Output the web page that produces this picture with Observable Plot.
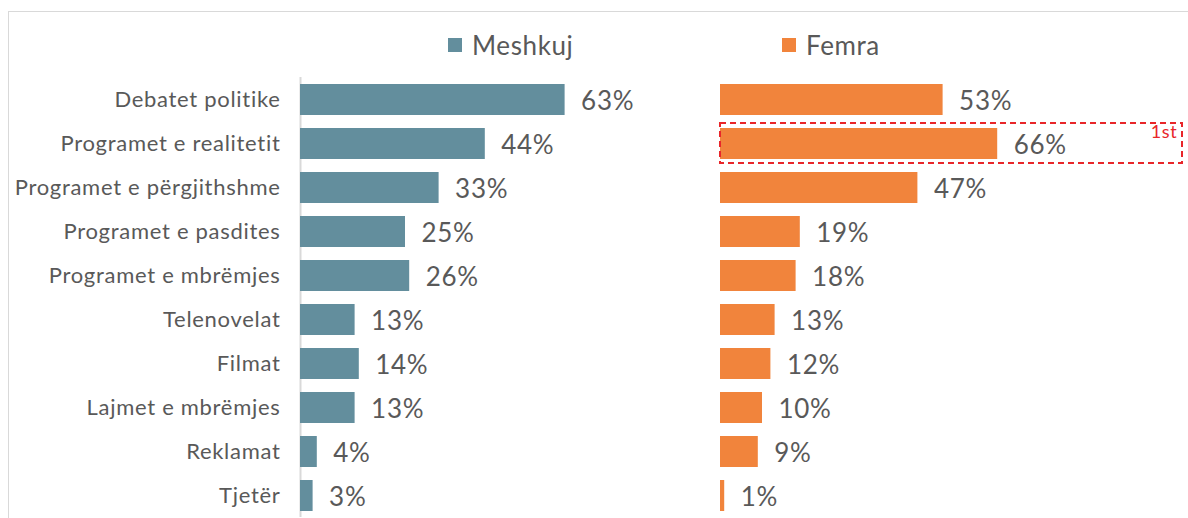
<!DOCTYPE html>
<html>
<head>
<meta charset="utf-8">
<script src="https://cdn.jsdelivr.net/npm/d3@7"></script>
<script src="https://cdn.jsdelivr.net/npm/@observablehq/plot@0.6"></script>
<style>
  html, body { margin: 0; padding: 0; background: #fff; }
  body { width: 1188px; height: 518px; position: relative; overflow: hidden; font-family: Lato, "Open Sans", sans-serif; }
  #frame { position: absolute; left: 8px; top: 11px; width: 1300px; height: 600px; border: 1px solid #d9d9d9; box-sizing: border-box; }
  #chart { position: absolute; left: 0; top: 0; }
  .leg { position: absolute; top: 29px; display: flex; align-items: center; font-size: 26px; letter-spacing: 0.6px; color: #595959; }
  .leg span.sw { display: inline-block; width: 14px; height: 14px; margin-right: 10px; }
  #chart svg text { letter-spacing: 0.7px; }
</style>
</head>
<body>
<div id="frame"></div>
<div id="chart"></div>
<div class="leg" style="left:448px"><span class="sw" style="background:#638e9d"></span>Meshkuj</div>
<div class="leg" style="left:782px"><span class="sw" style="background:#f1843c"></span>Femra</div>
<script>
const categories = ["Debatet politike","Programet e realitetit","Programet e përgjithshme","Programet e pasdites","Programet e mbrëmjes","Telenovelat","Filmat","Lajmet e mbrëmjes","Reklamat","Tjetër"];
const series = ["Meshkuj","Femra"];
const meshkuj = [63,44,33,25,26,13,14,13,4,3];
const femra = [53,66,47,19,18,13,12,10,9,1];
const colors = ["#638e9d","#f1843c"];
const highlight = {sex: "Femra", cat: "Programet e realitetit", label: "1st"};

const data = [];
categories.forEach((c, i) => {
  data.push({cat: c, sex: "Meshkuj", value: meshkuj[i]});
  data.push({cat: c, sex: "Femra", value: femra[i]});
});

const chart = Plot.plot({
  width: 1188,
  height: 518,
  marginLeft: 300,
  marginRight: 48,
  marginTop: 77,
  marginBottom: 1,
  style: {fontFamily: "Lato, 'Open Sans', sans-serif", fontSize: "22px", color: "#595959", background: "transparent", overflow: "visible"},
  fx: {domain: series, padding: 0, axis: null, label: null},
  x: {domain: [0, 100], axis: null},
  y: {domain: categories, paddingInner: 0.3, paddingOuter: 0.15, axis: null},
  color: {domain: series, range: colors},
  marks: [
    Plot.ruleX([{sex: "Meshkuj"}], {x: () => 0, fx: "sex", stroke: "#d9d9d9", strokeWidth: 2}),
    Plot.barX(data, {x: "value", y: "cat", fx: "sex", fill: "sex"}),
    Plot.text(data, {x: "value", y: "cat", fx: "sex", text: d => d.value + "%", textAnchor: "start", dx: 16, dy: 2, fontSize: 26, fill: "#595959"}),
    Plot.axisY({anchor: "left", tickSize: 0, tickPadding: 20, fontSize: 22, fill: "#595959", label: null}),
    Plot.barX([highlight], {x1: () => 0, x2: () => 110, y: "cat", fx: "sex", fill: "none", stroke: "#e8262a", strokeWidth: 2, strokeDasharray: "6,4", insetTop: -5, insetBottom: -4}),
    Plot.text([highlight], {x: () => 110, y: "cat", fx: "sex", text: "label", textAnchor: "end", dx: -5, dy: -12, fontSize: 18, fill: "#e8262a"})
  ]
});
document.getElementById("chart").appendChild(chart);
</script>
</body>
</html>
